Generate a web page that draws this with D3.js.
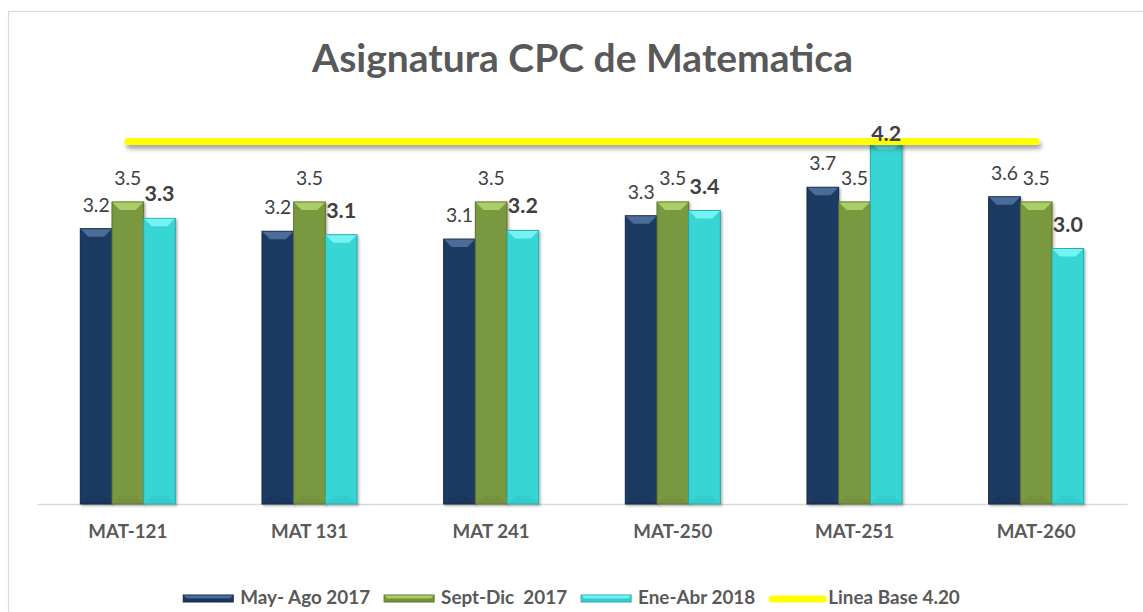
<!DOCTYPE html>
<html>
<head>
<meta charset="utf-8">
<script src="https://cdn.jsdelivr.net/npm/d3@7"></script>
<style>
  html, body { margin: 0; padding: 0; background: #fff; }
  svg { display: block; }
  text { font-family: Lato, "Open Sans", "Liberation Sans", sans-serif; }
</style>
</head>
<body>
<svg id="chart" width="1143" height="612"></svg>
<script>
// ---- data ----
const categories = ["MAT-121", "MAT 131", "MAT 241", "MAT-250", "MAT-251", "MAT-260"];
const seriesNames = ["May- Ago 2017", "Sept-Dic  2017", "Ene-Abr 2018"];
const mayAgo2017 = [3.19, 3.16, 3.07, 3.34, 3.67, 3.56];
const septDic2017 = [3.5, 3.5, 3.5, 3.5, 3.5, 3.5];
const eneAbr2018 = [3.31, 3.12, 3.17, 3.40, 4.2, 2.96];
const lineaBaseName = "Linea Base 4.20";
const lineaBase = [4.2, 4.2, 4.2, 4.2, 4.2, 4.2];
const titleText = "Asignatura CPC de Matematica";

// ---- styling ----
const seriesValues = [mayAgo2017, septDic2017, eneAbr2018];
const seriesStyle = [
  { base: "#1E3A64", top: "#4C6C98", bottom: "#17304F", stroke: "#132844", bold: false },
  { base: "#7A983F", top: "#AACF66", bottom: "#6A8536", stroke: "#5A722D", bold: false },
  { base: "#38D5D5", top: "#74F3F3", bottom: "#2FBDBD", stroke: "#29A7A7", bold: true }
];
const W = 1143, H = 612;
const svg = d3.select("#chart");
const FONT = 'Lato, "Open Sans", "Liberation Sans", sans-serif';

function fitSize(str, weight, target) {
  const t = svg.append("text").attr("font-size", 20).attr("font-weight", weight)
    .style("white-space", "pre").text(str);
  const w = t.node().getComputedTextLength();
  t.remove();
  return 20 * target / w;
}

const defs = svg.append("defs");
const sh = defs.append("filter").attr("id", "shadow").attr("filterUnits", "userSpaceOnUse")
  .attr("x", 0).attr("y", 0).attr("width", W).attr("height", H);
sh.append("feDropShadow").attr("dx", 2).attr("dy", 4).attr("stdDeviation", 2)
  .attr("flood-color", "#000").attr("flood-opacity", 0.35);
const bsh = defs.append("filter").attr("id", "barshadow").attr("filterUnits", "userSpaceOnUse")
  .attr("x", 0).attr("y", 0).attr("width", W).attr("height", H);
bsh.append("feDropShadow").attr("dx", 1.5).attr("dy", 1.5).attr("stdDeviation", 1.2)
  .attr("flood-color", "#000").attr("flood-opacity", 0.3);

svg.append("rect").attr("width", W).attr("height", H).attr("fill", "#fff");
// outer border
svg.append("rect").attr("x", 8.5).attr("y", 11.5).attr("width", 1200).attr("height", 700)
  .attr("fill", "none").attr("stroke", "#D9D9D9").attr("stroke-width", 1.2);

// title
const titleSize = fitSize(titleText, 700, 541);
svg.append("text").attr("x", 582.5).attr("y", 72).attr("text-anchor", "middle")
  .attr("font-size", titleSize).attr("font-weight", 700).attr("fill", "#595959")
  .text(titleText);

// scales
const plotLeft = 37, plotRight = 1127, baseY = 504;
const x = d3.scaleBand().domain(categories).range([plotLeft, plotRight])
  .paddingInner(0.477).paddingOuter(0.2385);
const xs = d3.scaleBand().domain(d3.range(seriesNames.length)).range([0, x.bandwidth()]);
const y = d3.scaleLinear().domain([0, 5]).range([baseY, baseY - 5 * 86.3]);

// axis
const axisG = svg.append("g").attr("transform", `translate(0,${baseY})`)
  .call(d3.axisBottom(x).tickSize(0).tickSizeOuter(0));
axisG.select(".domain").attr("stroke", "#D9D9D9").attr("stroke-width", 1.5);
const catSize = fitSize("MAT-121", 700, 79);
axisG.selectAll(".tick text").attr("y", 34).attr("dy", 0)
  .attr("font-size", catSize).attr("font-weight", 700).attr("fill", "#595959")
  .attr("font-family", FONT);

// bars
function bevelBar(g, bx, by, bw, bh, st) {
  const b = Math.min(8, bh / 2, bw / 3.5);
  g.append("rect").attr("x", bx).attr("y", by).attr("width", bw).attr("height", bh)
    .attr("fill", st.base).attr("stroke", st.stroke).attr("stroke-width", 1);
  g.append("path").attr("d", d3.line()([[bx + 0.5, by + 0.5], [bx + bw - 0.5, by + 0.5],
      [bx + bw - b, by + b], [bx + b, by + b]]) + "Z")
    .attr("fill", st.top);
  g.append("path").attr("d", d3.line()([[bx + 0.5, by + bh - 0.5], [bx + bw - 0.5, by + bh - 0.5],
      [bx + bw - b, by + bh - b], [bx + b, by + bh - b]]) + "Z")
    .attr("fill", st.bottom).attr("opacity", 0.35);
}

const barsG = svg.append("g");
seriesValues.forEach((vals, si) => {
  vals.forEach((v, ci) => {
    const g = barsG.append("g").attr("filter", "url(#barshadow)");
    const bx = x(categories[ci]) + xs(si);
    bevelBar(g, bx, y(v), xs.bandwidth(), baseY - y(v), seriesStyle[si]);
  });
});

// baseline line
const line = d3.line().x((d, i) => x(categories[i]) + x.bandwidth() / 2).y(d => y(d));
svg.append("path").datum(lineaBase).attr("d", line)
  .attr("fill", "none").attr("stroke", "#FFFF00").attr("stroke-width", 7)
  .attr("stroke-linecap", "round").attr("filter", "url(#shadow)");

// labels
const fmt = d3.format(".1f");
const normSize = fitSize("3.2", 400, 27);
const boldSize = fitSize("3.3", 700, 30);
seriesValues.forEach((vals, si) => {
  const st = seriesStyle[si];
  vals.forEach((v, ci) => {
    const cx = x(categories[ci]) + xs(si) + xs.bandwidth() / 2;
    const ly = Math.max(y(v) - 17, y(4.2) - 0.5);
    svg.append("text").attr("x", cx).attr("y", ly).attr("text-anchor", "middle")
      .attr("font-size", st.bold ? boldSize : normSize)
      .attr("font-weight", st.bold ? 700 : 400)
      .attr("fill", "#404040").text(fmt(v));
  });
});

// legend
const legSize = fitSize("May- Ago 2017", 700, 130);
const legItems = seriesNames.map((n, i) => ({ name: n, type: "bar", st: seriesStyle[i] }))
  .concat([{ name: lineaBaseName, type: "line" }]);
const legG = svg.append("g");
let cx = 0;
const legY = 604;
legItems.forEach((it, i) => {
  const g = legG.append("g");
  if (it.type === "bar") {
    bevelBar(g, cx, legY - 9, 50, 7, it.st);
    cx += 57;
  } else {
    g.append("line").attr("x1", cx + 3).attr("x2", cx + 54).attr("y1", legY - 5).attr("y2", legY - 5)
      .attr("stroke", "#FFFF00").attr("stroke-width", 7).attr("stroke-linecap", "round");
    cx += 59;
  }
  const t = g.append("text").attr("x", cx).attr("y", legY).attr("font-size", legSize)
    .attr("font-weight", 700).attr("fill", "#595959").style("white-space", "pre").text(it.name);
  cx += t.node().getComputedTextLength() + 14;
});
const totalW = cx - 14;
legG.attr("transform", `translate(${571.5 - totalW / 2},0)`);
</script>
</body>
</html>
